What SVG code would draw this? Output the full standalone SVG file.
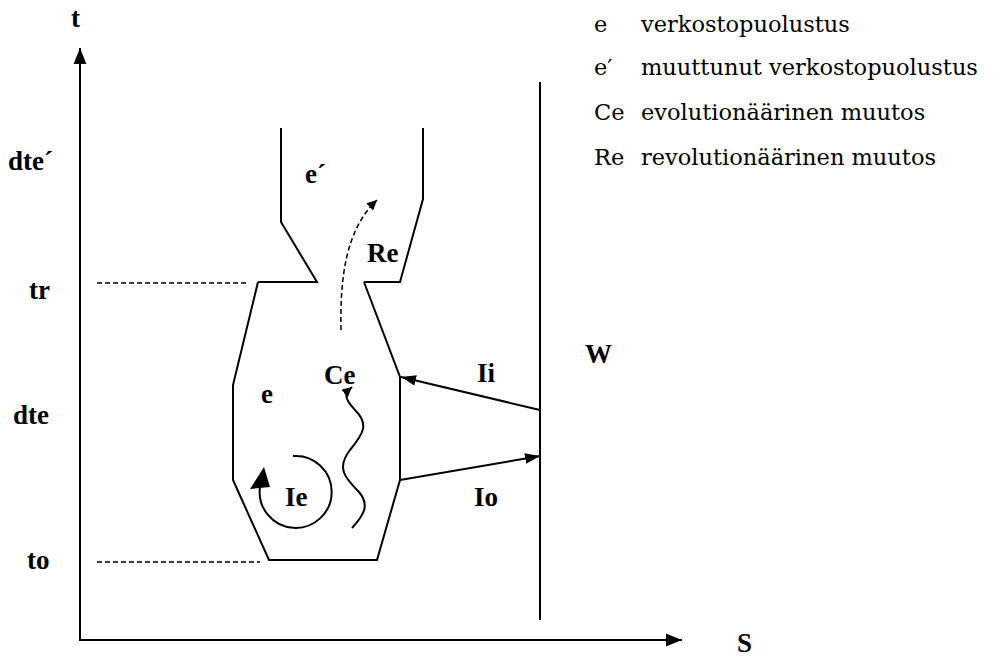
<svg xmlns="http://www.w3.org/2000/svg" width="994" height="659" viewBox="0 0 994 659">
<style>
.ln{fill:none;stroke:#000;stroke-width:2}
.ds{fill:none;stroke:#000;stroke-width:1.5;stroke-dasharray:5,3}
.lb{font-family:"Liberation Serif",serif;font-weight:bold;font-size:27px;fill:#000}
.lg{font-family:"DejaVu Serif",serif;font-size:22.5px;fill:#000}
</style>
<defs>
<marker id="ah" viewBox="0 0 10 10" refX="10" refY="5" markerWidth="10" markerHeight="10" markerUnits="userSpaceOnUse" orient="auto">
<path d="M0,0 L10,5 L0,10 z" fill="#000"/>
</marker>
<marker id="ahb" viewBox="0 0 10 10" refX="10" refY="5" markerWidth="16" markerHeight="16" markerUnits="userSpaceOnUse" orient="auto">
<path d="M0,1 L10,5 L0,9 z" fill="#000"/>
</marker>
<marker id="ahs" viewBox="0 0 10 10" refX="10" refY="5" markerWidth="15" markerHeight="15" markerUnits="userSpaceOnUse" orient="auto">
<path d="M0,1.5 L10,5 L0,8.5 z" fill="#000"/>
</marker>
</defs>
<rect width="994" height="659" fill="#fff"/>
<g id="axes">
<line class="ln" x1="80" y1="640" x2="80" y2="48" marker-end="url(#ahb)"/>
<line class="ln" x1="79" y1="640" x2="682" y2="640" marker-end="url(#ahb)"/>
<text class="lb" x="71" y="27">t</text>
<text class="lb" x="737" y="652">S</text>
<text class="lb" x="8" y="170">dte´</text>
<text class="lb" x="29" y="299">tr</text>
<text class="lb" x="13" y="424">dte</text>
<text class="lb" x="27" y="569">to</text>
<line class="ds" x1="97" y1="283" x2="248" y2="283"/>
<line class="ds" x1="97" y1="562" x2="260" y2="562"/>
</g>
<g id="e-prime">
<path class="ln" d="M281,128 V222 L317,282 H258"/>
<path class="ln" d="M423,128 V199 L400,282 H364"/>
<text class="lb" x="305" y="183">e´</text>
</g>
<g id="e">
<path class="ln" d="M258,282 L233,385 V480 L269,560 H377 L400,480 V377 L364,282"/>
<text class="lb" x="261" y="403">e</text>
</g>
<g id="W">
<line class="ln" x1="540" y1="82" x2="540" y2="620"/>
<text class="lb" x="585" y="363">W</text>
</g>
<g id="connectors">
<line class="ln" x1="540" y1="410" x2="401" y2="377" marker-end="url(#ahs)"/>
<line class="ln" x1="400" y1="480" x2="540" y2="456" marker-end="url(#ahs)"/>
<path class="ds" d="M341,330 C340,280 345,230 377,200" stroke-dasharray="6,4" marker-end="url(#ah)"/>
<path class="ln" d="M352,528 C364,515 370,505 359,492 C345,478 336,468 350,450 C364,433 369,424 355,410 C344,398 344,394 352,387" marker-end="url(#ah)"/>
<path class="ln" d="M293,456 A36,36 0 1 1 260,487"/>
<path d="M264,467 L250,489 L270,487 z" fill="#000"/>
<text class="lb" x="367" y="262">Re</text>
<text class="lb" x="324" y="384">Ce</text>
<text class="lb" x="477" y="382">Ii</text>
<text class="lb" x="474" y="506">Io</text>
<text class="lb" x="285" y="506">Ie</text>
</g>
<g id="legend">
<text class="lg" x="594" y="32">e</text>
<text class="lg" x="641" y="32">verkostopuolustus</text>
<text class="lg" x="594" y="75">e′</text>
<text class="lg" x="641" y="75">muuttunut verkostopuolustus</text>
<text class="lg" x="594" y="120">Ce</text>
<text class="lg" x="641" y="120">evolutionäärinen muutos</text>
<text class="lg" x="594" y="165">Re</text>
<text class="lg" x="641" y="165">revolutionäärinen muutos</text>
</g>
</svg>
